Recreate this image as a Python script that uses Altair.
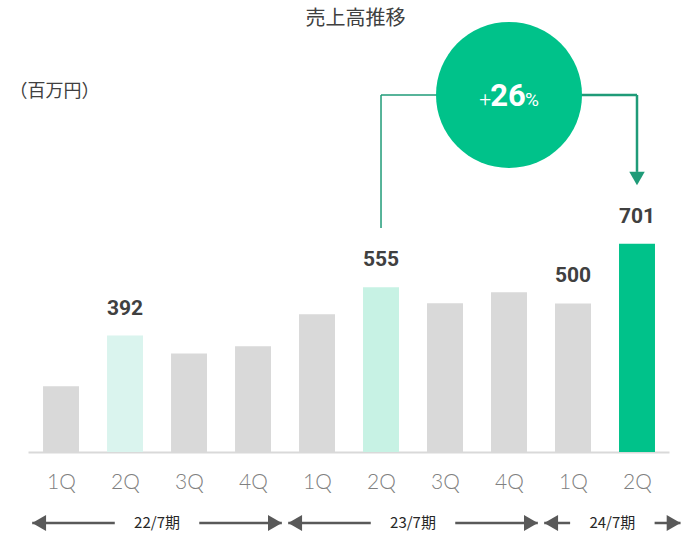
import json
import altair as alt
import pandas as pd

# ---------------- data ----------------
quarters = ["1Q", "2Q", "3Q", "4Q", "1Q", "2Q", "3Q", "4Q", "1Q", "2Q"]
periods = ["22/7期"] * 4 + ["23/7期"] * 4 + ["24/7期"] * 2
sales = [221, 392, 332, 356, 464, 555, 501, 538, 500, 701]
kinds = ["base", "prev", "base", "base", "base", "mid", "base", "base", "base", "current"]
labeled = [False, True, False, False, False, True, False, False, True, True]

kind_domain = ["base", "prev", "mid", "current"]
kind_colors = ["#D9D9D9", "#DAF4EE", "#C7F2E4", "#00C28A"]

compare_from = 5   # 2Q of 23/7期
compare_to = 9     # 2Q of 24/7期
growth = round((sales[compare_to] / sales[compare_from] - 1) * 100)

# annotation levels (in data units of the y scale)
level = 1202
left_bottom = 754
arrow_end = 943
arrow_head = 921
period_row = -239

title_text = "売上高推移"
unit_text = "（百万円）"

# ---------------- tables ----------------
df = pd.DataFrame({
    "idx": list(range(len(sales))),
    "quarter": quarters,
    "period": periods,
    "sales": sales,
    "kind": kinds,
    "labeled": labeled,
})

circle_x = (compare_from + compare_to) / 2
conn = pd.DataFrame([
    {"x": compare_from, "x2": compare_from, "y": left_bottom, "y2": level, "w": 1.5},
    {"x": compare_from, "x2": circle_x, "y": level, "y2": level, "w": 1.5},
    {"x": circle_x, "x2": compare_to, "y": level, "y2": level, "w": 2.5},
    {"x": compare_to, "x2": compare_to, "y": level, "y2": arrow_end, "w": 2.5},
])
circle_df = pd.DataFrame([{"x": circle_x, "y": level, "g": str(growth)}])
arrow_df = pd.DataFrame([{"x": compare_to, "y": arrow_head}])

prow = []
seg = []
heads_l = []
heads_r = []
plist = list(dict.fromkeys(periods))
for k, p in enumerate(plist):
    ids = [i for i, q in enumerate(periods) if q == p]
    start = ids[0] - 0.45
    end = ids[-1] + (0.68 if k == len(plist) - 1 else 0.45)
    mid = (start + end) / 2
    prow.append({"x": mid, "y": period_row, "t": p})
    seg.append({"x": start, "x2": mid - 0.66, "y": period_row})
    seg.append({"x": mid + 0.66, "x2": end, "y": period_row})
    heads_l.append({"x": start, "y": period_row})
    heads_r.append({"x": end, "y": period_row})
prow = pd.DataFrame(prow)
seg = pd.DataFrame(seg)
heads_l = pd.DataFrame(heads_l)
heads_r = pd.DataFrame(heads_r)

# ---------------- scales / axes ----------------
xs = alt.Scale(domain=[-0.516, 9.5], nice=False, zero=False)
ys = alt.Scale(domain=[0, 1387], nice=False, zero=False)

xaxis = alt.Axis(
    values=list(range(len(quarters))),
    labelExpr=json.dumps(quarters) + "[datum.value]",
    title=None, ticks=False, grid=False,
    domainColor="#D9D9D9", domainWidth=2,
    labelFont="Lato", labelFontWeight=300, labelFontSize=21,
    labelColor="#808080", labelPadding=19, labelFlush=False, labelOverlap=False,
)
yaxis = alt.Axis(
    title=unit_text, labels=False, ticks=False, grid=False, domain=False,
    titleAngle=0, titleAlign="left", titleBaseline="middle",
    titleX=-19, titleY=51, titleFont="Noto Sans CJK JP", titleFontSize=18,
    titleFontWeight="normal", titleColor="#404040",
)


def X(f):
    return alt.X(f, type="quantitative", scale=xs, axis=xaxis)


def Y(f):
    return alt.Y(f, type="quantitative", scale=ys, axis=yaxis)


base = alt.Chart(df)

bars = base.transform_calculate(
    x0="datum.idx - 0.281", x1="datum.idx + 0.281"
).mark_bar().encode(
    x=X("x0"), x2="x1:Q",
    y=Y("sales"), y2=alt.datum(0),
    color=alt.Color("kind:N", scale=alt.Scale(domain=kind_domain, range=kind_colors), legend=None),
)

labels = base.transform_filter("datum.labeled").mark_text(
    font="Roboto", fontWeight="bold", fontSize=21, color="#404040",
    baseline="alphabetic", dy=-21,
).encode(x=X("idx"), y=Y("sales"), text=alt.Text("sales:Q"))

conn_l = alt.Chart(conn).mark_rule(color="#1F9B78").encode(
    x=X("x"), x2="x2:Q", y=Y("y"), y2="y2:Q",
    strokeWidth=alt.StrokeWidth("w:Q", scale=None),
)

circ = alt.Chart(circle_df).mark_point(
    shape="circle", filled=True, size=146 ** 2, color="#00C28A", opacity=1
).encode(x=X("x"), y=Y("y"))

g_num = alt.Chart(circle_df).mark_text(
    font="Roboto", fontWeight="bold", fontSize=31, color="white",
    baseline="alphabetic", dy=11, dx=-1,
).encode(x=X("x"), y=Y("y"), text="g:N")
g_plus = alt.Chart(circle_df).mark_text(
    font="Roboto", fontWeight=300, fontSize=21, color="white", align="right",
    baseline="alphabetic", dy=11, dx=-18,
).encode(x=X("x"), y=Y("y"), text=alt.value("+"))
g_pct = alt.Chart(circle_df).mark_text(
    font="Roboto", fontSize=19, color="white", align="left",
    baseline="alphabetic", dy=11, dx=16,
).encode(x=X("x"), y=Y("y"), text=alt.value("%"))

arrow = alt.Chart(arrow_df).mark_point(
    shape="triangle-down", filled=True, size=240, color="#1F9B78", opacity=1
).encode(x=X("x"), y=Y("y"))

p_lines = alt.Chart(seg).mark_rule(color="#595959", strokeWidth=2.5).encode(
    x=X("x"), x2="x2:Q", y=Y("y")
)
p_hl = alt.Chart(heads_l).mark_point(
    shape="triangle-left", filled=True, size=256, color="#595959", opacity=1, xOffset=6.9
).encode(x=X("x"), y=Y("y"))
p_hr = alt.Chart(heads_r).mark_point(
    shape="triangle-right", filled=True, size=256, color="#595959", opacity=1, xOffset=-6.9
).encode(x=X("x"), y=Y("y"))
p_text = alt.Chart(prow).mark_text(
    font="Noto Sans CJK JP", fontSize=15, color="#262626", baseline="middle"
).encode(x=X("x"), y=Y("y"), text="t:N")

chart = alt.layer(
    bars, labels, conn_l, circ, g_num, g_plus, g_pct, arrow, p_lines, p_hl, p_hr, p_text
).properties(
    width=641, height=412,
    title=alt.TitleParams(
        title_text, anchor="middle", frame="group", orient="top",
        font="Noto Sans CJK JP", fontSize=20, fontWeight="normal", color="#404040",
        baseline="alphabetic", offset=-23, dx=7,
    ),
    autosize=alt.AutoSizeParams(type="none"),
    padding={"left": 28, "right": 13, "top": 40, "bottom": 82},
).configure_view(stroke=None)

chart.save("out.html", embed_options={"renderer": "svg", "actions": False})
